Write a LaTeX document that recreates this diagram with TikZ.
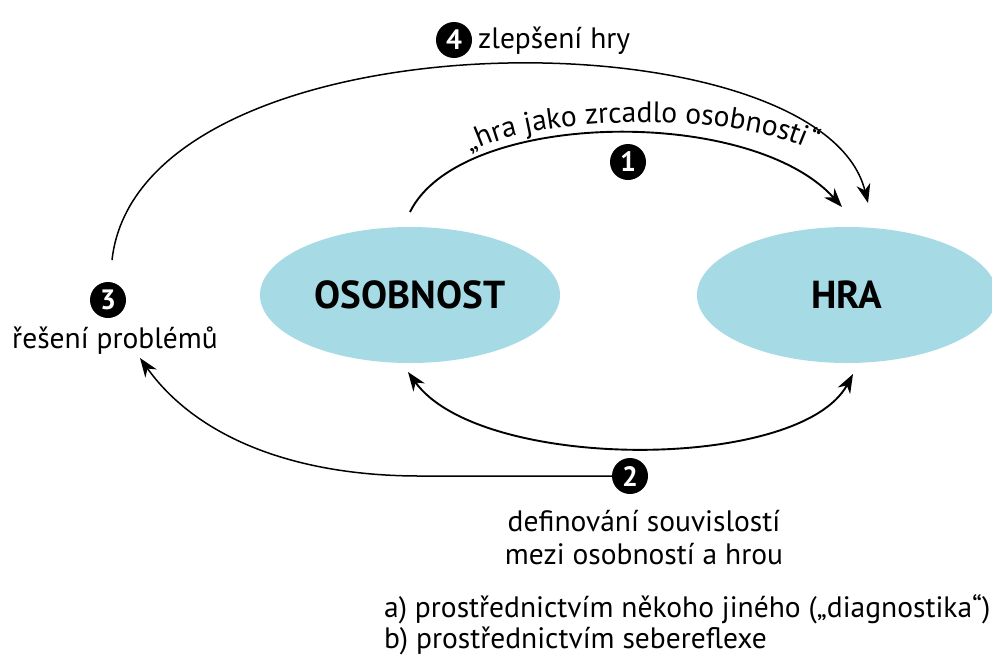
\documentclass[tikz,border=0pt]{standalone}
\usepackage{fontspec}
\setmainfont{PT Sans}
\usetikzlibrary{arrows.meta,shapes.geometric,decorations.text}
\definecolor{blob}{RGB}{166,219,229}
\tikzset{
  bubble/.style={ellipse, fill=blob, minimum width=300pt, minimum height=136pt,
    inner sep=0pt, font=\fontsize{39}{44}\selectfont\bfseries},
  badge/.style={circle, fill=black, text=white, minimum size=36pt, inner sep=0pt,
    font=\fontsize{28}{30}\selectfont\bfseries},
  label/.style={inner sep=0pt, font=\fontsize{29.5}{33}\selectfont},
  flow/.style={line width=1.9pt, -{Stealth[length=19pt,width=14pt,inset=6pt]}},
  thinflow/.style={line width=1.5pt, -{Stealth[length=19pt,width=14pt,inset=6pt]}},
}
\begin{document}
\begin{tikzpicture}[x=1pt,y=-1pt]
\useasboundingbox (0,0) rectangle (992,656);

% the two main concepts
\node[bubble] (osob) at (410,295) {OSOBNOST};
\node[bubble] (hra)  at (847,295) {HRA};

% numbered steps
\node[badge] (n4) at (454,40)  {4};
\node[badge] (n1) at (628,162) {1};
\node[badge] (n3) at (108,300) {3};
\node[badge] (n2) at (630,476) {2};

% captions
\node[label, anchor=base west] (t4) at (478,48) {zlepšení hry};
\node[label, anchor=base] (t3) at (115,348) {řešení problémů};
\node[label, anchor=base] (t2a) at (644,531) {definování souvislostí};
\node[label, anchor=base] (t2b) at (644,564) {mezi osobností a hrou};
\node[label, anchor=base west] (ra) at (384,617) {a) prostřednictvím někoho jiného („diagnostika“)};
\node[label, anchor=base west] (rb) at (384,648) {b) prostřednictvím sebereflexe};

% connector end points
\coordinate (a1s) at (410,212);
\coordinate (a1e) at (842,207);
\coordinate (a4s) at (112,260);
\coordinate (a4e) at (868,203);
\coordinate (a2l) at (408,372);
\coordinate (a2r) at (853,374);
\coordinate (a3e) at (140,358);

% 1: game as a mirror of personality
\draw[flow] (a1s) .. controls (460,110) and (750,105) .. (a1e);
\path[decorate, decoration={text along path, text align=center,
  text={|\fontsize{29.5}{32}\selectfont|„hra jako zrcadlo osobnosti“}}]
  (460,160) .. controls (520,110) and (760,110) .. (824,158);

% 4: improving the game
\draw[thinflow] (a4s) .. controls (140,10) and (820,10) .. (a4e);

% 2: linking personality and game
\draw[flow, {Stealth[length=19pt,width=14pt,inset=6pt]}-{Stealth[length=19pt,width=14pt,inset=6pt]}]
  (a2l) .. controls (480,472) and (800,472) .. (a2r);

% 2 -> 3: problem solving
\draw[thinflow] (n2.west) -- (420,476) .. controls (290,476) and (195,435) .. (a3e);
\end{tikzpicture}
\end{document}
